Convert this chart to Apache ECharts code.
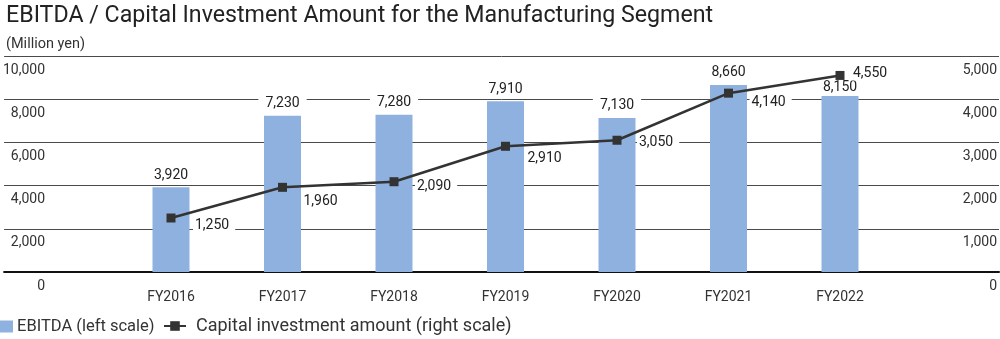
<!DOCTYPE html>
<html>
<head>
<meta charset="utf-8">
<script src="https://cdn.jsdelivr.net/npm/echarts@6/dist/echarts.min.js"></script>
<style>
html,body{margin:0;padding:0;background:#fff;}
#chart{width:1000px;height:339px;}
</style>
</head>
<body>
<div id="chart"></div>
<script>
var categories = ['FY2016', 'FY2017', 'FY2018', 'FY2019', 'FY2020', 'FY2021', 'FY2022'];
var ebitda = [3920, 7230, 7280, 7910, 7130, 8660, 8150];
var capex = [1250, 1960, 2090, 2910, 3050, 4140, 4550];
var leftTicks = [0, 2000, 4000, 6000, 8000, 10000];
var rightTicks = [0, 1000, 2000, 3000, 4000, 5000];

var FONT = 'Roboto, "Noto Sans", sans-serif';
var fmt = function (v) { return Number(v).toLocaleString('en-US'); };

// label placement around the line markers (distance from marker, vertical shift)
var capexLabelShift = [[17.5, 7], [14.5, 14], [16.5, 5], [15.5, 12], [15.5, 2], [16.5, 9], [6.5, -2]];
var ebitdaLabelDist = [5, 5, 5, 5, 5, 5, 1];

var chart = echarts.init(document.getElementById('chart'), null, {renderer: 'canvas'});

var gridTop = 56, gridBottom = 67;

var option = {
  backgroundColor: '#fff',
  animation: false,
  title: [
    {text: 'EBITDA / Capital Investment Amount for the Manufacturing Segment', left: 1, top: 0,
     textStyle: {fontFamily: FONT, fontSize: 23.2, fontWeight: 'normal', color: '#222'}},
    {text: '(Million yen)', left: 1, top: 32,
     textStyle: {fontFamily: FONT, fontSize: 14.5, fontWeight: 'normal', color: '#333'}}
  ],
  legend: [
    {left: 0, bottom: 4, padding: 0, itemWidth: 13, itemHeight: 12, itemGap: 0,
     textStyle: {fontFamily: FONT, fontSize: 16.5, color: '#333', padding: [0, 0, 0, -1]},
     data: [{name: 'EBITDA (left scale)', icon: 'rect'}]},
    {left: 163, bottom: 4, padding: 0, itemWidth: 22, itemHeight: 12, itemGap: 0,
     textStyle: {fontFamily: FONT, fontSize: 18, color: '#333', padding: [0, 0, 0, 5]},
     data: [{name: 'Capital investment amount (right scale)'}]}
  ],
  grid: [
    {left: 0, right: 0, top: gridTop, bottom: gridBottom, containLabel: false},
    {left: 115.25, right: 104.25, top: gridTop, bottom: gridBottom, containLabel: false}
  ],
  xAxis: [
    {gridIndex: 0, type: 'value', min: 0, max: 1, show: true,
     axisLine: {show: true, lineStyle: {color: '#111', width: 2}},
     axisTick: {show: false}, axisLabel: {show: false}, splitLine: {show: false}},
    {gridIndex: 1, type: 'category', data: categories,
     axisLine: {show: false}, axisTick: {show: false},
     axisLabel: {fontFamily: FONT, fontSize: 14, color: '#333', margin: 18}}
  ],
  yAxis: [
    {gridIndex: 0, type: 'value', min: 0, max: 10000, interval: 2000, position: 'left',
     axisLine: {show: false}, axisTick: {show: false},
     splitLine: {show: true, lineStyle: {color: '#4a4a4a', width: 1}},
     axisLabel: {inside: true, margin: 41, align: 'right', verticalAlign: 'top', padding: [7, 0, 0, 0],
                 fontFamily: FONT, fontSize: 14, color: '#333', formatter: fmt}},
    {gridIndex: 0, type: 'value', min: 0, max: 5000, interval: 1000, position: 'right',
     axisLine: {show: false}, axisTick: {show: false}, splitLine: {show: false},
     axisLabel: {inside: true, margin: 2, align: 'right', verticalAlign: 'top', padding: [7, 0, 0, 0],
                 fontFamily: FONT, fontSize: 14, color: '#333', formatter: fmt}},
    {gridIndex: 1, type: 'value', min: 0, max: 10000, interval: 2000, show: false},
    {gridIndex: 1, type: 'value', min: 0, max: 5000, interval: 1000, show: false}
  ],
  series: [
    {
      name: 'EBITDA (left scale)', type: 'bar', xAxisIndex: 1, yAxisIndex: 2,
      data: ebitda.map(function (v, i) {
        return {value: v, label: {distance: ebitdaLabelDist[i]}};
      }),
      barWidth: 37,
      itemStyle: {color: '#8fb1df'},
      label: {show: true, position: 'top', fontFamily: FONT, fontSize: 14, lineHeight: 14, color: '#222',
              backgroundColor: '#fff', padding: [0, 7],
              formatter: function (p) { return fmt(p.value); }},
      z: 2
    },
    {
      name: 'Capital investment amount (right scale)', type: 'line', xAxisIndex: 1, yAxisIndex: 3,
      data: capex.map(function (v, i) {
        return {value: v, label: {distance: capexLabelShift[i][0], offset: [0, capexLabelShift[i][1]]}};
      }),
      symbol: 'rect', symbolSize: 9,
      lineStyle: {color: '#333', width: 2.5},
      itemStyle: {color: '#333'},
      label: {show: true, position: 'right', fontFamily: FONT, fontSize: 14, lineHeight: 14, color: '#222',
              backgroundColor: '#fff', padding: [0, 6, 0, 2],
              formatter: function (p) { return fmt(p.value); }},
      z: 5
    }
  ]
};
chart.setOption(option);
</script>
</body>
</html>
